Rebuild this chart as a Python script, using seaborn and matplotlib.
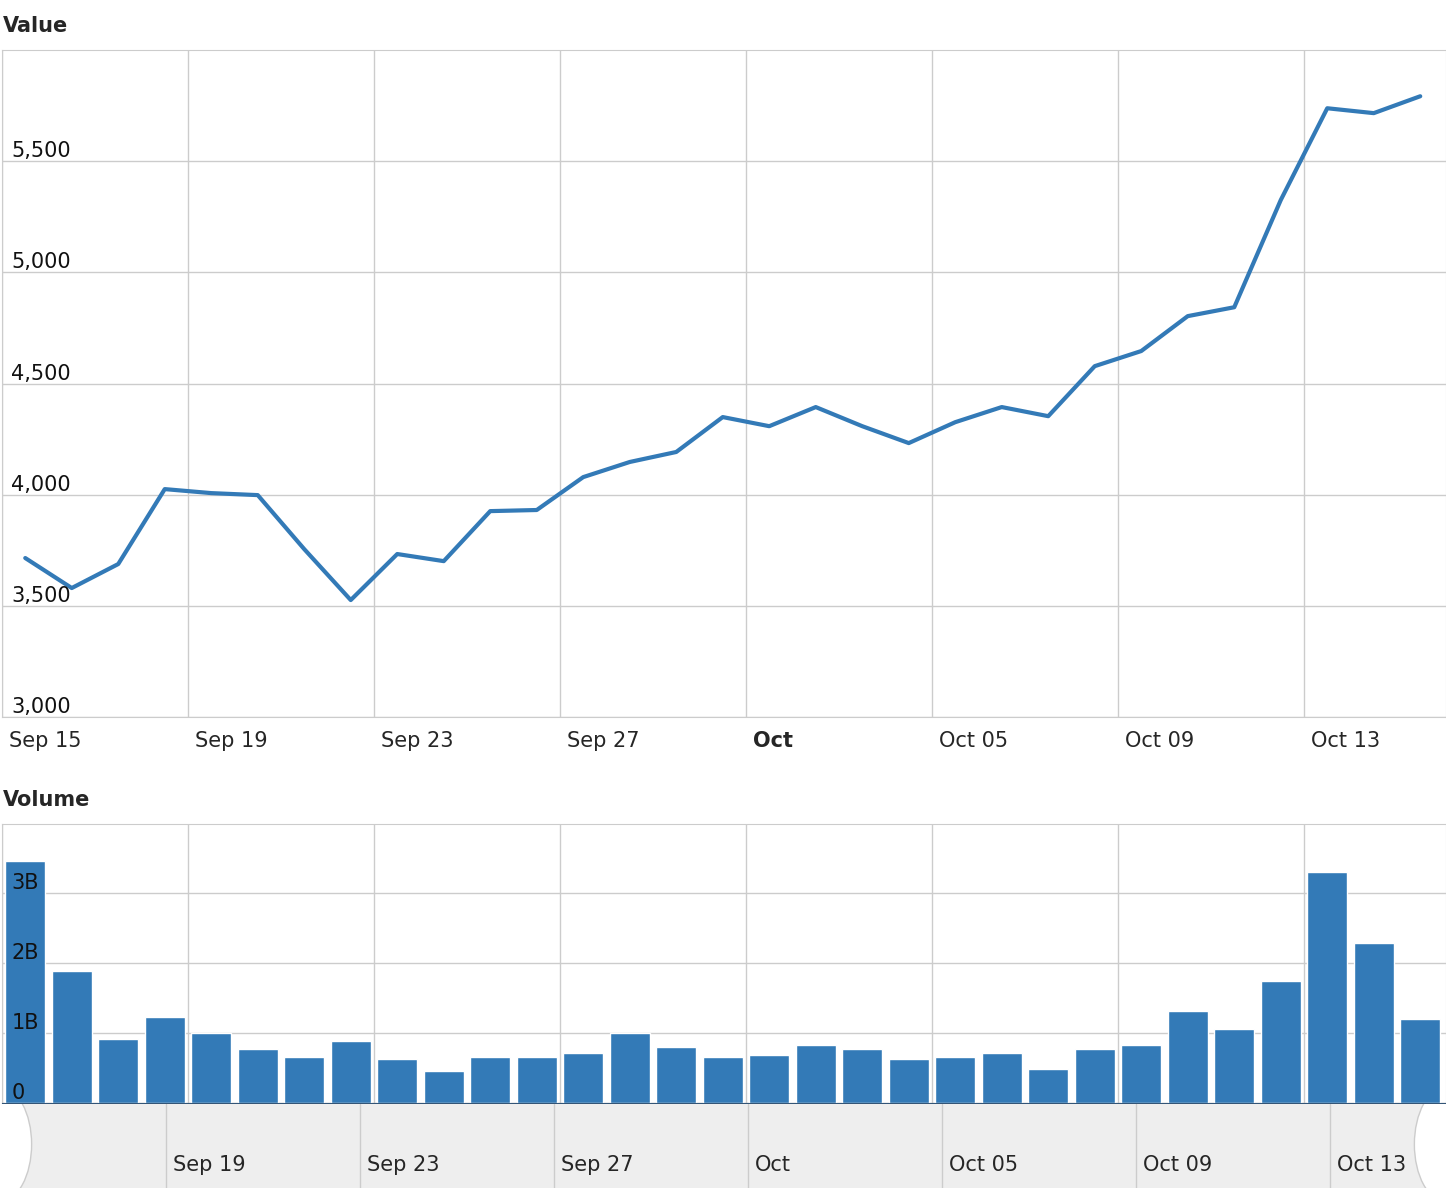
import numpy as np
import pandas as pd
import matplotlib
matplotlib.use("Agg")
import matplotlib.pyplot as plt
from matplotlib.ticker import FuncFormatter
from matplotlib.patches import Circle
import seaborn as sns

# daily values, Sep 15 .. Oct 15
days = list(range(31))
value = [3715, 3580, 3688, 4025, 4007, 3998, 3755, 3526, 3733, 3701,
         3926, 3931, 4079, 4147, 4192, 4349, 4308, 4394, 4308, 4232,
         4326, 4394, 4353, 4578, 4646, 4803, 4843, 5325, 5738, 5716, 5792]
volume_b = [3.46, 1.89, 0.91, 1.23, 1.0, 0.77, 0.66, 0.89, 0.63, 0.46,
            0.66, 0.66, 0.71, 1.0, 0.8, 0.66, 0.69, 0.83, 0.77, 0.63,
            0.66, 0.71, 0.49, 0.77, 0.83, 1.31, 1.06, 1.74, 3.31, 2.29, 1.2]
tick_days = [0, 4, 8, 12, 16, 20, 24, 28]
tick_labels = ["Sep 15", "Sep 19", "Sep 23", "Sep 27", "Oct", "Oct 05", "Oct 09", "Oct 13"]

df = pd.DataFrame({"day": [d + 0.5 for d in days], "value": value,
                   "volume": volume_b})

sns.set_style("white")
plt.rcParams["font.family"] = ["DejaVu Sans"]
blue = "#337ab7"
W, H = 1446, 1200
fig = plt.figure(figsize=(14.46, 12), dpi=100)

def box(x0, y0, x1, y1):
    return [x0 / W, 1 - y1 / H, (x1 - x0) / W, (y1 - y0) / H]

xmax = 1444 / 46.5

def style(ax):
    ax.set_xlim(0, xmax)
    ax.grid(True, color="#cccccc", lw=1)
    for s in ax.spines.values():
        s.set_color("#cccccc")
    ax.set_xticks(tick_days)
    ax.tick_params(length=0)
    ax.set_xlabel("")
    ax.set_ylabel("")

# value panel
ax1 = fig.add_axes(box(2, 50, 1446, 717))
sns.lineplot(data=df, x="day", y="value", color=blue, lw=3, ax=ax1)
ax1.set_ylim(3000, 6000)
ax1.set_yticks([3000, 3500, 4000, 4500, 5000, 5500])
style(ax1)
ax1.set_xticklabels([])
ax1.set_yticklabels([])
for v in [3000, 3500, 4000, 4500, 5000, 5500]:
    ax1.text(0.2, v, f"{v:,}", fontsize=15, va="bottom", color="#111111")
for d, lab in zip(tick_days, tick_labels):
    ax1.text(d + 0.15, 2890, lab, fontsize=15, va="center", ha="left",
             weight="bold" if lab == "Oct" else "normal")
fig.text(3 / W, 1 - 26 / H, "Value", fontsize=15, weight="bold", va="center")

# volume panel
ax2 = fig.add_axes(box(2, 824, 1446, 1103))
sns.barplot(data=df, x="day", y="volume", native_scale=True, color=blue,
            saturation=1, width=0.86, ax=ax2)
ax2.set_ylim(0, 3.99)
ax2.set_yticks([0, 1, 2, 3])
style(ax2)
ax2.set_axisbelow(True)
ax2.set_xticklabels([])
ax2.set_yticklabels([])
ax2.spines["bottom"].set_color("#335577")
for v in [0, 1, 2, 3]:
    ax2.text(0.2, v, "0" if v == 0 else f"{v}B", fontsize=15, va="bottom", color="#111111")
fig.text(3 / W, 1 - 800 / H, "Volume", fontsize=15, weight="bold", va="center")

# navigator strip
ax3 = fig.add_axes(box(0, 1104, 1446, 1188))
ax3.set_facecolor("#eeeeee")
ax3.set_xlim(0, xmax * 1446 / 1444)
ax3.set_ylim(0, 1)
for s in ax3.spines.values():
    s.set_visible(False)
ax3.set_xticks([])
ax3.set_yticks([])
nav_scale = (1446 - 0) / 1446 * (1306 - 166) / (1306 - 188)
for i, (d, lab) in enumerate(zip(tick_days, tick_labels)):
    if i == 0:
        continue
    xpix = 166 + (d - 4) * 48.5
    ax3.axvline(xpix / 46.5, color="#cccccc", lw=1)
    ax3.text(xpix / 46.5 + 0.15, 0.27, lab, fontsize=15, va="center")
for xp in [0, 1446]:
    ax3.add_patch(Circle((xp / 46.5, 0.52), 0.68, transform=ax3.transData,
                         facecolor="white", edgecolor="#cccccc", clip_on=True))

fig.savefig("out.png", dpi=100)
